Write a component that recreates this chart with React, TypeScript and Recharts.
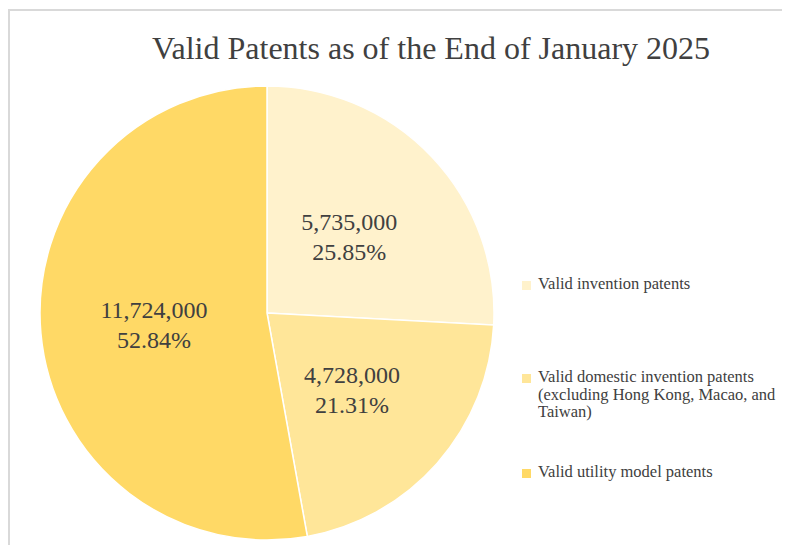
import React from 'react';
import { PieChart, Pie, Cell } from 'recharts';

const title = 'Valid Patents as of the End of January 2025';
const categories = [
  'Valid invention patents',
  'Valid domestic invention patents (excluding Hong Kong, Macao, and Taiwan)',
  'Valid utility model patents',
];
const values = [5735000, 4728000, 11724000];
const colors = ['#FFF2CC', '#FFE699', '#FFD966'];

const data = categories.map((name, i) => ({ name, value: values[i] }));
const total = values.reduce((a, b) => a + b, 0);
const RAD = Math.PI / 180;
const FONT = 'Liberation Serif, Tinos, DejaVu Serif, Times New Roman, serif';
const TEXT = '#404040';

const renderLabel = (props: any) => {
  const { cx, cy, midAngle, outerRadius, value } = props;
  const r = outerRadius * 0.5;
  const x = cx + r * Math.cos(-midAngle * RAD);
  const y = cy + r * Math.sin(-midAngle * RAD);
  return (
    <text x={x} y={y} textAnchor="middle" fill={TEXT} style={{ fontFamily: FONT, fontSize: 24 }}>
      <tspan x={x} y={y - 5}>{Number(value).toLocaleString('en-US')}</tspan>
      <tspan x={x} y={y + 25}>{((Number(value) / total) * 100).toFixed(2)}%</tspan>
    </text>
  );
};

const rowTops = [0, 93, 188];

export default function App() {
  return (
    <div
      style={{
        position: 'relative',
        marginTop: 1,
        width: 774,
        height: 536,
        boxSizing: 'border-box',
        borderTop: '2px solid #d9d9d9',
        borderLeft: '2px solid #d9d9d9',
        background: '#fff',
        fontFamily: FONT,
      }}
    >
      <div
        style={{
          position: 'absolute',
          left: 421,
          top: 21,
          transform: 'translateX(-50%)',
          whiteSpace: 'nowrap',
          fontFamily: FONT,
          fontSize: 32,
          lineHeight: '32px',
          color: TEXT,
        }}
      >
        {title}
      </div>
      <PieChart
        width={772}
        height={534}
        margin={{ top: 0, right: 0, bottom: 0, left: 0 }}
        style={{ position: 'absolute', left: 0, top: 0 }}
      >
        <Pie
          data={data}
          dataKey="value"
          nameKey="name"
          cx={257}
          cy={302}
          outerRadius={227}
          startAngle={90}
          endAngle={-270}
          stroke="#ffffff"
          strokeWidth={1.5}
          label={renderLabel}
          labelLine={false}
          isAnimationActive={false}
        >
          {data.map((_, i) => (
            <Cell key={i} fill={colors[i]} />
          ))}
        </Pie>
      </PieChart>
      <div style={{ position: 'absolute', left: 512, top: 264, width: 270, height: 230, color: TEXT }}>
        {categories.map((name, i) => (
          <div key={i} style={{ position: 'absolute', left: 0, top: rowTops[i], width: 270 }}>
            <div style={{ position: 'absolute', left: 0, top: 6, width: 9, height: 9, background: colors[i] }} />
            <div style={{ position: 'absolute', left: 16, top: 0, width: 250, fontSize: 16.5, lineHeight: '17.5px' }}>
              {name}
            </div>
          </div>
        ))}
      </div>
    </div>
  );
}
